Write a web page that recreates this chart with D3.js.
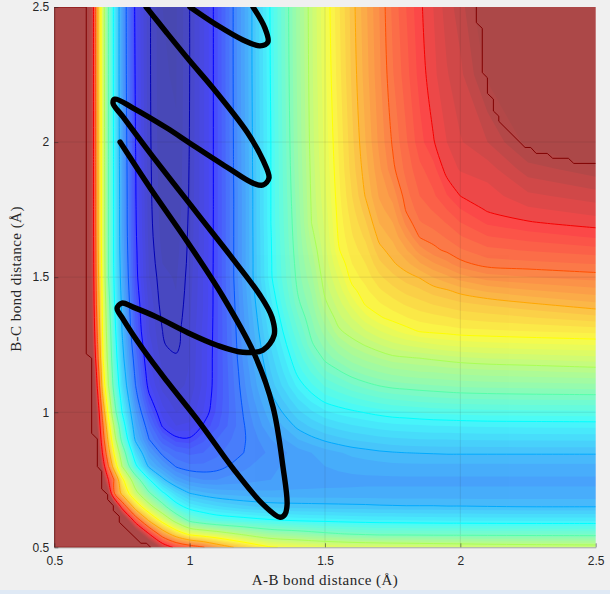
<!DOCTYPE html>
<html>
<head>
<meta charset="utf-8">
<script src="https://cdn.jsdelivr.net/npm/d3@7"></script>
<style>
  html, body { margin: 0; padding: 0; background: #f0f0f0; overflow: hidden; }
  .tick text { font-family: "Liberation Sans", Arial, sans-serif; font-size: 12px; fill: #262626; }
  .axisLabel { font-family: "Liberation Serif", serif; font-size: 15px; letter-spacing: 0.45px; fill: #262626; text-anchor: middle; }
</style>
</head>
<body>
<svg id="chart" width="610" height="594"></svg>
<script>
//------------------------------DATA-------------------------------------
const xTicks = [0.5, 1, 1.5, 2, 2.5];
const yTicks = [0.5, 1, 1.5, 2, 2.5];

// grid positions (bond distances), tighter near the steep wall and the bend
const gridX = [0.5, 0.6, 0.64, 0.66, 0.68, 0.7, 0.72, 0.75, 0.8, 0.85, 0.9, 0.95, 1, 1.05, 1.1, 1.2, 1.3, 1.4, 1.45, 1.5, 1.55, 1.6, 1.65, 1.7, 1.75, 1.8, 1.85, 1.9, 1.95, 2, 2.1, 2.25, 2.5];
const gridY = [0.5, 0.55, 0.6, 0.65, 0.7, 0.75, 0.8, 0.85, 0.9, 0.95, 1, 1.05, 1.1, 1.15, 1.2, 1.25, 1.3, 1.35, 1.4, 1.45, 1.5, 1.55, 1.6, 1.65, 1.7, 1.75, 1.8, 1.9, 2, 2.25, 2.5];

// surface, in units of contour line number (1 = innermost, 12 = dark red)
// one row per gridY value, bottom row first
const surface = [
  13,13,13,13,13,13,13,13,13,13,11.6,10.8,10.4,10.05,9.5,8.7,8.05,7.85,7.77,7.7,7.65,7.6,7.57,7.55,7.52,7.5,7.47,7.45,7.42,7.4,7.35,7.3,7.25,
  13,13,13,13,13,13,13,13,12.7,11,9.5,8.5,7.8,7.55,7.35,6.85,6.45,6.3,6.2,6.1,6.02,5.95,5.9,5.85,5.85,5.85,5.84,5.83,5.83,5.83,5.82,5.81,5.8,
  13,13,13,13,13,13,13,13,10.6,8.9,7.7,6.7,5.85,5.55,5.35,5.2,5.05,4.95,4.92,4.9,4.87,4.85,4.83,4.82,4.81,4.8,4.79,4.78,4.77,4.77,4.76,4.75,4.75,
  13,13,13,13,13,13,12.7,10.7,8.6,7.3,6.3,5.25,4.8,4.6,4.45,4.25,4.15,4.12,4.11,4.1,4.09,4.08,4.07,4.05,4.04,4.03,4.03,4.03,4.02,4.02,4.01,4,4,
  13,13,13,13,13,12,10.1,8.8,7.25,6.1,5.1,4.45,4,3.85,3.75,3.68,3.65,3.65,3.65,3.65,3.65,3.65,3.65,3.65,3.65,3.65,3.65,3.65,3.65,3.65,3.65,3.65,3.65,
  13,13,13,13,12.3,11,10,8.2,6.45,5.05,4.1,3.55,3.3,3.2,3.2,3.3,3.4,3.48,3.5,3.52,3.53,3.54,3.55,3.55,3.55,3.55,3.55,3.55,3.55,3.55,3.55,3.55,3.55,
  13,13,13,13,11.4,10,8.65,7,5.15,3.9,3.4,2.97,2.85,2.85,2.9,3.15,3.35,3.5,3.55,3.6,3.64,3.68,3.7,3.72,3.74,3.75,3.75,3.75,3.75,3.75,3.75,3.75,3.75,
  13,13,13,12.5,10.8,9.3,8,6.5,4.5,3.45,2.9,2.65,2.55,2.6,2.75,3,3.25,3.5,3.6,3.7,3.78,3.85,3.9,3.95,3.98,4,4.01,4.02,4.03,4.03,4.03,4.03,4.03,
  13,13,13,12.2,10.3,8.8,7.4,5.8,3.9,3,2.45,2.1,2.05,2.35,2.6,2.97,3.4,3.8,3.93,4.05,4.14,4.22,4.27,4.32,4.36,4.38,4.4,4.41,4.41,4.42,4.43,4.44,4.45,
  13,13,13,11.8,10,8.3,7,5.4,3.65,2.75,1.95,1.6,1.65,2.03,2.35,2.98,3.6,4.07,4.25,4.4,4.5,4.58,4.64,4.7,4.74,4.76,4.78,4.8,4.81,4.82,4.84,4.85,4.86,
  13,13,13,11.6,9.5,7.8,6.4,5,3.45,2.4,1.7,1.4,1.45,1.8,2.25,3.03,3.75,4.34,4.56,4.75,4.86,4.94,5.02,5.09,5.15,5.18,5.22,5.25,5.27,5.29,5.31,5.32,5.34,
  13,13,13,11.2,9,7.4,6.1,4.75,3.2,2.1,1.5,1.25,1.35,1.72,2.2,3.09,3.92,4.6,4.88,5.1,5.22,5.35,5.46,5.56,5.63,5.67,5.72,5.75,5.78,5.8,5.82,5.84,5.85,
  13,13,13,10.8,8.5,7,5.8,4.5,3,1.85,1.3,1.12,1.25,1.65,2.18,3.15,4.09,4.87,5.16,5.43,5.6,5.77,5.91,6.02,6.1,6.14,6.17,6.2,6.23,6.26,6.29,6.31,6.35,
  13,13,12.7,10.5,8.25,6.85,5.65,4.35,2.87,1.72,1.2,1.07,1.22,1.65,2.17,3.2,4.2,5.08,5.42,5.77,5.96,6.16,6.3,6.41,6.5,6.55,6.6,6.62,6.66,6.69,6.73,6.77,6.84,
  13,13,12.3,10.2,8,6.7,5.5,4.2,2.75,1.6,1.1,1.04,1.2,1.65,2.17,3.26,4.31,5.25,5.68,6.07,6.29,6.51,6.67,6.8,6.92,6.96,7,7.05,7.1,7.15,7.21,7.25,7.33,
  13,13,12.1,10,7.9,6.6,5.4,4.1,2.6,1.5,1.02,0.93,1.18,1.65,2.16,3.3,4.42,5.42,5.95,6.28,6.61,6.86,7.03,7.19,7.33,7.43,7.5,7.58,7.63,7.68,7.72,7.76,7.81,
  13,13,12,9.8,7.8,6.5,5.3,4,2.45,1.4,1,0.9,1.2,1.65,2.15,3.34,4.53,5.59,6.09,6.5,6.94,7.15,7.38,7.58,7.75,7.9,8.02,8.06,8.09,8.13,8.16,8.2,8.27,
  13,13,11.9,9.65,7.75,6.4,5.2,3.95,2.37,1.37,0.94,0.86,1.17,1.62,2.15,3.38,4.63,5.76,6.2,6.72,7.13,7.41,7.72,7.96,8.09,8.19,8.28,8.33,8.38,8.44,8.5,8.58,8.73,
  13,13,11.8,9.5,7.7,6.3,5.1,3.9,2.3,1.35,0.88,0.82,1.15,1.6,2.15,3.42,4.74,5.93,6.32,6.93,7.3,7.67,8.03,8.17,8.3,8.43,8.52,8.61,8.68,8.75,8.83,8.96,9.15,
  13,13,11.75,9.4,7.65,6.15,5.05,3.82,2.22,1.27,0.86,0.8,1.12,1.6,2.15,3.46,4.85,6.03,6.43,7.07,7.47,7.92,8.15,8.36,8.52,8.67,8.76,8.89,8.97,9.08,9.24,9.37,9.52,
  13,13,11.7,9.3,7.6,6,5,3.75,2.15,1.2,0.85,0.78,1.1,1.6,2.15,3.5,4.95,6.1,6.55,7.17,7.63,8.1,8.28,8.55,8.74,8.9,9.02,9.21,9.35,9.51,9.71,9.79,9.89,
  13,13,11.67,9.25,7.55,6,4.97,3.7,2.12,1.17,0.8,0.75,1.08,1.58,2.15,3.5,4.96,6.15,6.66,7.26,7.8,8.2,8.4,8.74,8.96,9.14,9.37,9.57,9.73,9.93,10.1,10.14,10.21,
  13,13,11.65,9.2,7.5,6,4.95,3.65,2.1,1.15,0.75,0.72,1.07,1.57,2.15,3.5,4.97,6.2,6.77,7.33,7.97,8.3,8.52,8.92,9.11,9.38,9.7,9.93,10.05,10.17,10.34,10.42,10.52,
  13,13,11.62,9.17,7.47,6,4.95,3.62,2.07,1.12,0.72,0.7,1.06,1.56,2.15,3.5,4.98,6.24,6.89,7.4,8.03,8.38,8.65,9.07,9.25,9.62,10.02,10.1,10.23,10.38,10.59,10.69,10.83,
  13,13,11.6,9.15,7.45,6,4.95,3.6,2.05,1.1,0.7,0.68,1.05,1.56,2.15,3.5,5,6.27,7,7.45,8.07,8.45,8.78,9.2,9.39,9.86,10.18,10.28,10.41,10.59,10.83,10.97,11.09,
  13,13,11.6,9.15,7.45,6,4.95,3.6,2.04,1.09,0.68,0.66,1.04,1.55,2.15,3.5,5,6.3,7.02,7.5,8.1,8.53,8.9,9.32,9.53,10.03,10.3,10.42,10.6,10.79,11.03,11.16,11.3,
  13,13,11.6,9.15,7.45,6,4.95,3.6,2.03,1.08,0.67,0.65,1.03,1.55,2.15,3.5,5,6.33,7.04,7.55,8.13,8.6,9.02,9.42,9.67,10.12,10.4,10.56,10.78,11,11.1,11.35,11.5,
  13,13,11.6,9.13,7.42,6,4.94,3.58,2.02,1.07,0.65,0.63,1.02,1.55,2.15,3.52,5,6.38,7.07,7.62,8.18,8.7,9.12,9.55,9.94,10.27,10.55,10.72,11.1,11.22,11.3,11.71,11.92,
  13,13,11.6,9.12,7.4,6,4.93,3.55,2,1.06,0.63,0.61,1.01,1.55,2.15,3.53,5,6.42,7.1,7.67,8.22,8.75,9.2,9.65,10.03,10.37,10.72,10.98,11.2,11.38,11.6,12.08,13,
  13,13,11.6,9.1,7.35,6,4.9,3.5,1.95,1.05,0.61,0.59,1,1.55,2.15,3.55,5.03,6.47,7.14,7.75,8.3,8.85,9.3,9.75,10.18,10.52,10.88,11.14,11.38,11.55,12.05,13,13,
  13,13,11.6,9.1,7.3,6,4.9,3.5,1.9,1.05,0.6,0.58,1,1.55,2.15,3.55,5.05,6.5,7.16,7.8,8.35,8.9,9.35,9.8,10.25,10.6,10.95,11.2,11.5,11.7,12.3,13,13
];

const lineLevels = [1, 2, 3, 4, 5, 6, 7, 8, 9, 10, 11];
const bandLevels = [0.6, 0.8, 1, 1.2, 1.4, 1.6, 1.8, 2, 2.2, 2.4, 2.6, 2.8, 3, 3.2, 3.4, 3.6, 3.8, 4, 4.2, 4.4, 4.6, 4.8, 5, 5.2, 5.4, 5.6, 5.8, 6, 6.2, 6.4, 6.6, 6.8, 7, 7.2, 7.4, 7.6, 7.8, 8, 8.2, 8.4, 8.6, 8.8, 9, 9.2, 9.4, 9.6, 9.8, 10, 10.2, 10.4, 10.6, 10.8, 11, 11.2, 11.4, 11.6, 11.8, 12];

// the stepped dark red outline of the two flat plateaus
const wallEdge = [[0.618,2.5],[0.5,2.5],[0.5,0.5],[0.856,0.5],[0.841,0.515],[0.82,0.515],[0.74,0.593],[0.74,0.615],[0.718,0.636],[0.718,0.654],[0.697,0.677],[0.697,0.695],[0.675,0.716],[0.675,0.781],[0.659,0.799],[0.659,0.901],[0.638,0.922],[0.638,1.2],[0.618,1.216],[0.618,2.5]];
const cornerEdge = [[2.059,2.5],[2.059,2.442],[2.081,2.421],[2.081,2.257],[2.1,2.238],[2.1,2.18],[2.122,2.159],[2.122,2.115],[2.142,2.096],[2.142,2.077],[2.239,1.98],[2.26,1.98],[2.28,1.958],[2.321,1.958],[2.341,1.94],[2.399,1.94],[2.419,1.921],[2.5,1.921]];

// trajectory, cut in two where it leaves the top of the plot
const trajectoryA = [[0.743,2],[0.854,1.83],[0.99,1.633],[1.12,1.433],[1.241,1.211],[1.308,1.019],[1.345,0.796],[1.36,0.659],[1.352,0.622],[1.334,0.611],[1.271,0.659],[1.16,0.792],[1.038,0.96],[0.916,1.115],[0.828,1.233],[0.754,1.345],[0.732,1.385],[0.75,1.404],[0.791,1.389],[0.879,1.352],[0.99,1.296],[1.101,1.248],[1.197,1.222],[1.271,1.23],[1.312,1.285],[1.304,1.352],[1.26,1.433],[1.16,1.567],[1.027,1.737],[0.854,1.959],[0.754,2.093],[0.717,2.144],[0.724,2.159],[0.791,2.126],[0.916,2.052],[1.001,1.996],[1.138,1.907],[1.234,1.848],[1.271,1.841],[1.293,1.867],[1.271,1.933],[1.212,2.037],[1.086,2.2],[1.001,2.3],[0.916,2.404],[0.839,2.5]];
const trajectoryB = [[1.001,2.5],[1.101,2.433],[1.197,2.378],[1.26,2.356],[1.289,2.37],[1.278,2.422],[1.234,2.5]];

//------------------------------SCALES-------------------------------------
const left = 54.3, right = 595.7, top_ = 7, bottom = 547.3;

const x = d3.scaleLinear().domain([0.5, 2.5]).range([left, right]);
const y = d3.scaleLinear().domain([0.5, 2.5]).range([bottom, top_]);

// grid index -> bond distance, the grid is not evenly spaced
const indexX = d3.scaleLinear().domain(d3.range(gridX.length)).range(gridX).clamp(true);
const indexY = d3.scaleLinear().domain(d3.range(gridY.length)).range(gridY).clamp(true);

// jet, the top end reaches dark red at line 12
const jet = d3.scaleLinear()
	.domain([0, 0.125, 0.375, 0.625, 0.867, 0.958])
	.range(["#00008f", "#0000ff", "#00ffff", "#ffff00", "#ff0000", "#8f0000"])
	.clamp(true);
const levelColor = (level) => jet((level - 0.5) / 12);

const svg = d3.select("#chart");

svg.append("rect").attr("x", 0).attr("y", 590).attr("width", 610).attr("height", 4).attr("fill", "#dfe9f5");

svg.append("clipPath").attr("id", "plotClip").append("rect")
	.attr("x", left).attr("y", top_).attr("width", right - left).attr("height", bottom - top_);

//------------------------------FILLED BANDS-------------------------------------
const contours = d3.contours().size([gridX.length, gridY.length]);

// contour output has grid node i at i + 0.5
const ringToPx = (ring) => ring.map(([cx, cy]) => [x(indexX(cx - 0.5)), y(indexY(cy - 0.5))]);

const plot = svg.append("g").attr("clip-path", "url(#plotClip)");
const bands = plot.append("g").attr("opacity", 0.7);

bands.append("rect")
	.attr("x", left).attr("y", top_).attr("width", right - left).attr("height", bottom - top_)
	.attr("fill", levelColor(0.6));

bandLevels.forEach((level) => {
	const shape = contours.thresholds([level])(surface)[0];
	const d = shape.coordinates.map((poly) => poly.map((ring) => "M" + ringToPx(ring).join("L") + "Z").join("")).join("");
	bands.append("path")
		.attr("d", d)
		.attr("fill", levelColor(level + 0.1))
		.attr("stroke", "none");
});

//------------------------------GRID-------------------------------------
xTicks.slice(1, -1).forEach((t) => {
	plot.append("line").attr("x1", x(t)).attr("x2", x(t)).attr("y1", top_).attr("y2", bottom)
		.attr("stroke", "#262626").attr("stroke-opacity", 0.1);
});
yTicks.slice(1, -1).forEach((t) => {
	plot.append("line").attr("y1", y(t)).attr("y2", y(t)).attr("x1", left).attr("x2", right)
		.attr("stroke", "#262626").attr("stroke-opacity", 0.1);
});

//------------------------------CONTOUR LINES-------------------------------------
const lineGen = d3.line().curve(d3.curveCatmullRom.alpha(0.5));

// cut a ring where it only runs along the plot edge, those parts are not drawn
function splitRing(pts) {
	const onEdge = (a, b) =>
		(Math.abs(a[0] - b[0]) < 1e-6 && (Math.abs(a[0] - left) < 1e-6 || Math.abs(a[0] - right) < 1e-6)) ||
		(Math.abs(a[1] - b[1]) < 1e-6 && (Math.abs(a[1] - top_) < 1e-6 || Math.abs(a[1] - bottom) < 1e-6));
	let start = 0;
	for (let i = 0; i < pts.length - 1; i++) {
		if (onEdge(pts[i], pts[i + 1])) { start = i + 1; break; }
	}
	const rolled = pts.slice(start, -1).concat(pts.slice(0, start + 1));
	const parts = [];
	let cur = [];
	rolled.forEach((p, i) => {
		if (i > 0 && onEdge(rolled[i - 1], p)) {
			if (cur.length > 1) parts.push(cur);
			cur = [];
		}
		cur.push(p);
	});
	if (cur.length > 1) parts.push(cur);
	return parts;
}

lineLevels.forEach((level) => {
	const shape = contours.thresholds([level])(surface)[0];
	shape.coordinates.forEach((poly) => poly.forEach((ring) => {
		splitRing(ringToPx(ring)).forEach((part) => {
			plot.append("path")
				.attr("d", lineGen(part))
				.attr("fill", "none")
				.attr("stroke", levelColor(level))
				.attr("stroke-width", 1);
		});
	}));
});

const edgeLine = d3.line().x((d) => x(d[0])).y((d) => y(d[1]));
[wallEdge, cornerEdge].forEach((edge) => {
	plot.append("path")
		.attr("d", edgeLine(edge))
		.attr("fill", "none")
		.attr("stroke", "#800000")
		.attr("stroke-width", 1);
});

//------------------------------AXES-------------------------------------
const xAxis = d3.axisBottom(x).tickValues(xTicks).tickFormat(d3.format("~g")).tickSizeOuter(0).tickSizeInner(-4).tickPadding(9);
const yAxis = d3.axisLeft(y).tickValues(yTicks).tickFormat(d3.format("~g")).tickSizeOuter(0).tickSizeInner(-4).tickPadding(5);

const gx = svg.append("g").attr("transform", `translate(0,${bottom})`).call(xAxis);
const gy = svg.append("g").attr("transform", `translate(${left},0)`).call(yAxis);
gx.selectAll(".domain").attr("stroke", "#262626").attr("stroke-opacity", 0.35);
gy.selectAll(".domain").attr("stroke", "#262626").attr("stroke-opacity", 0.35);
gx.selectAll(".tick line").attr("stroke", "#262626").attr("stroke-opacity", 0.5);
gy.selectAll(".tick line").attr("stroke", "#262626").attr("stroke-opacity", 0.5);

svg.append("text").attr("class", "axisLabel").attr("x", 325).attr("y", 585).text("A-B bond distance (Å)");
svg.append("text").attr("class", "axisLabel")
	.attr("transform", "translate(21,279) rotate(-90)")
	.text("B-C bond distance (Å)");

//------------------------------TRAJECTORY-------------------------------------
const trajLine = d3.line().x((d) => x(d[0])).y((d) => y(d[1])).curve(d3.curveCatmullRom.alpha(0.5));
[trajectoryA, trajectoryB].forEach((part) => {
	plot.append("path")
		.attr("d", trajLine(part))
		.attr("fill", "none")
		.attr("stroke", "#000")
		.attr("stroke-width", 5.4)
		.attr("stroke-linecap", "round")
		.attr("stroke-linejoin", "round");
});
</script>
</body>
</html>
